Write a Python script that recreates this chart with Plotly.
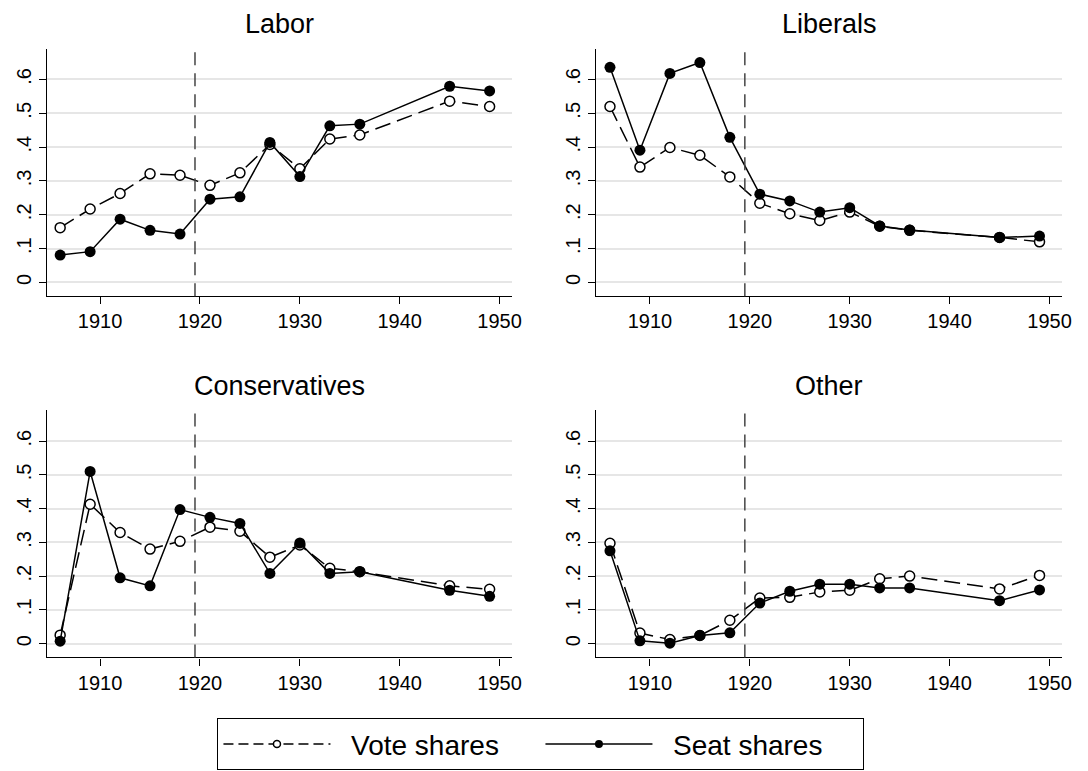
import plotly.graph_objects as go

years = [1906, 1909, 1912, 1915, 1918, 1921, 1924, 1927, 1930, 1933, 1936, 1945, 1949]

panels = ["Labor", "Liberals", "Conservatives", "Other"]

labor_vote = [0.162, 0.217, 0.263, 0.321, 0.317, 0.287, 0.324, 0.408, 0.336, 0.424, 0.436, 0.536, 0.520]
labor_seat = [0.081, 0.091, 0.187, 0.154, 0.143, 0.246, 0.253, 0.414, 0.313, 0.463, 0.468, 0.580, 0.566]
liberal_vote = [0.520, 0.341, 0.399, 0.376, 0.312, 0.234, 0.203, 0.183, 0.208, 0.166, 0.154, 0.133, 0.120]
liberal_seat = [0.636, 0.391, 0.618, 0.650, 0.429, 0.261, 0.241, 0.208, 0.221, 0.167, 0.155, 0.133, 0.137]
cons_vote = [0.025, 0.413, 0.329, 0.280, 0.303, 0.345, 0.333, 0.256, 0.292, 0.223, 0.213, 0.171, 0.161]
cons_seat = [0.007, 0.510, 0.195, 0.171, 0.397, 0.374, 0.356, 0.208, 0.298, 0.208, 0.213, 0.158, 0.140]
other_vote = [0.297, 0.031, 0.012, 0.024, 0.069, 0.135, 0.137, 0.153, 0.158, 0.192, 0.200, 0.162, 0.202]
other_seat = [0.275, 0.008, 0.001, 0.024, 0.032, 0.120, 0.155, 0.176, 0.176, 0.165, 0.165, 0.127, 0.159]

vote_series = [labor_vote, liberal_vote, cons_vote, other_vote]
seat_series = [labor_seat, liberal_seat, cons_seat, other_seat]

cutoff_year = 1919.5
x_ticks = [1910, 1920, 1930, 1940, 1950]
y_ticks = [0, 0.1, 0.2, 0.3, 0.4, 0.5, 0.6]
y_tick_labels = ["0", ".1", ".2", ".3", ".4", ".5", ".6"]
legend_labels = ["Vote shares", "Seat shares"]

FONT = "Liberation Sans, Arial, Helvetica, sans-serif"
W, H = 1088, 771
OFF = 8  # page body margin offset

# pixel layout of plot areas on screen (left, right, top, bottom)
boxes = [
    (47, 516.5, 48.7, 296.3),
    (601.4, 1071, 48.7, 296.3),
    (47, 516.5, 410.4, 657.4),
    (601.4, 1071, 410.4, 657.4),
]

fig = go.Figure()
layout = dict(
    width=W, height=H,
    margin=dict(l=0, r=0, t=0, b=0),
    paper_bgcolor="white", plot_bgcolor="white",
    font=dict(family=FONT, color="black"),
    showlegend=True,
)
annotations = []
shapes = []

for i, name in enumerate(panels):
    l, r, t, b = [v - OFF for v in boxes[i]]
    xa = "x" if i == 0 else f"x{i+1}"
    ya = "y" if i == 0 else f"y{i+1}"
    xkey = "xaxis" if i == 0 else f"xaxis{i+1}"
    ykey = "yaxis" if i == 0 else f"yaxis{i+1}"
    layout[xkey] = dict(
        domain=[l / W, r / W], anchor=ya, range=[1904.65, 1951.27],
        tickvals=x_ticks, ticks="outside", ticklen=7, tickwidth=1, tickcolor="black",
        showline=True, linecolor="black", linewidth=1.2, showgrid=False, zeroline=False,
        tickfont=dict(size=20, family=FONT, color="black"),
    )
    layout[ykey] = dict(
        domain=[1 - b / H, 1 - t / H], anchor=xa, range=[-0.041, 0.691],
        tickvals=y_ticks, ticktext=y_tick_labels, tickangle=-90,
        ticks="outside", ticklen=7, tickwidth=1, tickcolor="black",
        showline=True, linecolor="black", linewidth=1.2,
        showgrid=True, gridcolor="#e6e6e6", gridwidth=1.5, zeroline=False,
        tickfont=dict(size=20, family=FONT, color="black"),
    )
    fig.add_trace(go.Scatter(
        x=years, y=vote_series[i], xaxis=xa, yaxis=ya, mode="lines+markers",
        line=dict(color="black", width=1.5, dash="16px,7px"),
        marker=dict(symbol="circle", size=10, color="white",
                    line=dict(color="black", width=1.5)),
        showlegend=False, name=legend_labels[0],
    ))
    fig.add_trace(go.Scatter(
        x=years, y=seat_series[i], xaxis=xa, yaxis=ya, mode="lines+markers",
        line=dict(color="black", width=1.5),
        marker=dict(symbol="circle", size=11, color="black"),
        showlegend=False, name=legend_labels[1],
    ))
    shapes.append(dict(
        type="line", xref=xa, yref=f"{ya} domain", x0=cutoff_year, x1=cutoff_year,
        y0=0, y1=1, line=dict(color="#444444", width=1.5, dash="13px,8px"),
    ))
    annotations.append(dict(
        text=name, xref="paper", yref="paper", x=(l + r) / 2 / W,
        y=1 - (t - 24.4) / H, xanchor="center", yanchor="middle",
        showarrow=False, font=dict(size=27, family=FONT, color="black"),
    ))

# legend-only entries
NB = "\u00a0\u00a0"
fig.add_trace(go.Scatter(
    x=[None], y=[None], mode="lines+markers", name=NB + legend_labels[0],
    line=dict(color="black", width=1.5, dash="10px,5px"),
    marker=dict(symbol="circle", size=7, color="white", line=dict(color="black", width=1.5)),
))
fig.add_trace(go.Scatter(
    x=[None], y=[None], mode="lines+markers", name=NB + legend_labels[1],
    line=dict(color="black", width=1.5),
    marker=dict(symbol="circle", size=8, color="black"),
))

layout["legend"] = dict(
    orientation="h", x=(219 - OFF) / W, y=1 - (718 - OFF) / H,
    xanchor="left", yanchor="top",
    bordercolor="black", borderwidth=1.2, bgcolor="white",
    font=dict(size=28, family=FONT, color="black"),
    itemwidth=107, entrywidth=200, tracegroupgap=0,
)
layout["annotations"] = annotations
layout["shapes"] = shapes
fig.update_layout(**layout)

fig.write_html("out.html")
